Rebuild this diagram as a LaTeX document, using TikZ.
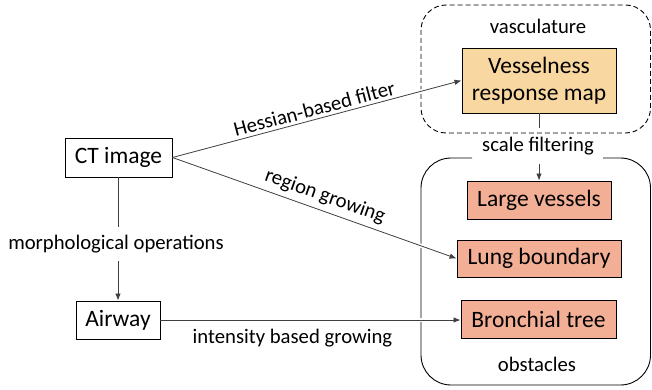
\documentclass[tikz,border=0pt]{standalone}
\usepackage{fontspec}
\setmainfont{Carlito}
\usetikzlibrary{arrows.meta}
\definecolor{vfill}{HTML}{F9D7A0}
\definecolor{ofill}{HTML}{F2AF95}
\definecolor{conn}{HTML}{404040}
\tikzset{
 box/.style={draw=black, line width=0.9pt, inner sep=0pt, font=\fontsize{23.5}{27.5}\selectfont, align=center},
 lbl/.style={font=\fontsize{20.7}{24}\selectfont, inner sep=2pt, text=black},
 link/.style={draw=conn, line width=0.8pt, preaction={draw=white, line width=4pt, -, shorten >=5pt, shorten <=5pt}},
 tip/.style={-{Latex[length=7pt,width=5.5pt]}},
 group/.style={draw=black, line width=0.9pt},
}
\begin{document}
\begin{tikzpicture}[x=1pt,y=-1pt]
\useasboundingbox (0,0) rectangle (652,390);

% containers
\draw[group, dashed, dash pattern=on 5pt off 3pt, rounded corners=25pt] (421,5) rectangle (650.5,133);
\draw[group, rounded corners=30pt] (472,158) -| (421,385) -| (650.5,158) -- (603,158);

% text of containers
\node[lbl] (vasc) at (538,26) {vasculature};
\node[lbl] (obst) at (537,364) {obstacles};
\node[lbl, minimum width=131pt, minimum height=35pt, inner sep=0pt] (sf) at (538,146) {scale filtering};

% nodes
\node[box, fill=vfill, minimum width=154pt, minimum height=65pt] (vessel) at (539,80.5) {Vesselness\\response map};
\node[box, fill=ofill, minimum width=144pt, minimum height=38pt] (large) at (539,200) {Large vessels};
\node[box, fill=ofill, minimum width=164pt, minimum height=37pt] (lung) at (539,258.5) {Lung boundary};
\node[box, fill=ofill, minimum width=155pt, minimum height=38pt] (bronch) at (538.5,319.5) {Bronchial tree};
\node[box, minimum width=107pt, minimum height=39pt] (ct) at (118.5,157.5) {CT image};
\node[box, minimum width=84pt, minimum height=38pt] (airway) at (118,320) {Airway};
\node[lbl] (morph) at (116,244) {morphological operations};

% connectors
\draw[link] (vessel.south) -- (vessel.south |- sf.north);
\draw[link, tip] (sf.south -| large.north) -- (large.north);
\draw[link] (ct.south) -- (ct.south |- 0,227);
\draw[link, tip] (airway.north |- 0,261) -- (airway.north);
\draw[link, tip] (ct.east) -- (vessel.west) node[lbl, midway, sloped, above=1pt] {Hessian-based filter};
\draw[link, tip] (ct.east) -- (lung.west) node[lbl, pos=0.52, sloped, above=3pt] {region growing};
\draw[link, tip] (airway.east) -- (airway.east -| bronch.west) node[lbl, pos=0.44, below=7pt] {intensity based growing};
\end{tikzpicture}
\end{document}
